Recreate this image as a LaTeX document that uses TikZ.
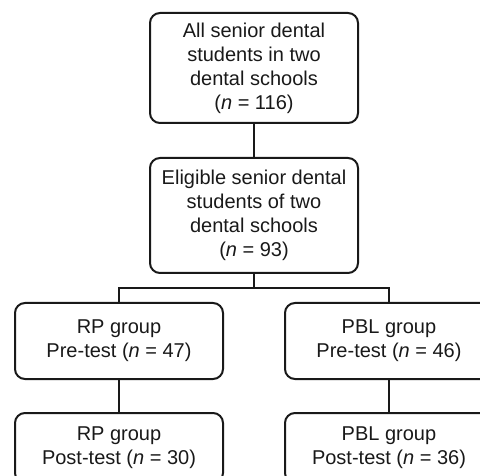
\documentclass[tikz,border=0pt]{standalone}
\usepackage{fontspec}
\setmainfont{Liberation Sans}
\begin{document}
\begin{tikzpicture}[x=1pt,y=-1pt,
  box/.style={draw=black!90, line width=2pt, rounded corners=10pt, minimum width=208pt,
    align=center, inner sep=0pt, font=\fontsize{20}{24}\selectfont, text=black!90},
  conn/.style={draw=black!90, line width=2pt}]
\useasboundingbox (0,0) rectangle (480,476);
\clip (0,0) rectangle (480,476);
\node[box, minimum height=110pt] (all) at (254,68) {All senior dental\\students in two\\dental schools\\(\textit{n} = 116)};
\node[box, minimum height=115pt] (elig) at (254,215.5) {Eligible senior dental\\students of two\\dental schools\\(\textit{n} = 93)};
\node[box, minimum height=76pt] (rppre) at (119,341) {RP group\\Pre-test (\textit{n} = 47)};
\node[box, minimum height=76pt] (pblpre) at (389,341) {PBL group\\Pre-test (\textit{n} = 46)};
\node[box, minimum height=70pt] (rppost) at (119,448) {RP group\\Post-test (\textit{n} = 30)};
\node[box, minimum height=70pt] (pblpost) at (389,448) {PBL group\\Post-test (\textit{n} = 36)};
\coordinate (br) at (254,288);
\draw[conn] (all.south) -- (elig.north);
\draw[conn] (elig.south) -- (br);
\draw[conn] (rppre.north) |- (br) -| (pblpre.north);
\draw[conn] (rppre.south) -- (rppost.north);
\draw[conn] (pblpre.south) -- (pblpost.north);
\end{tikzpicture}
\end{document}
